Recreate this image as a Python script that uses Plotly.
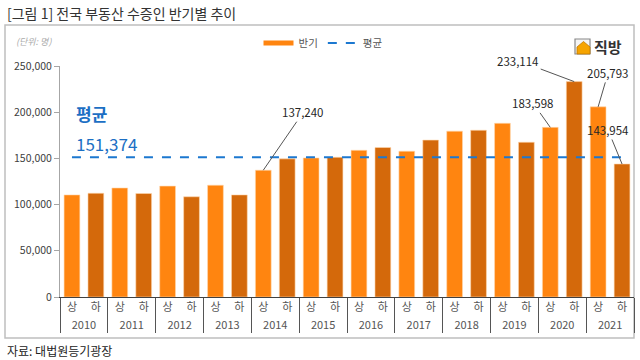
import plotly.graph_objects as go

# ---- data ----
years = ["2010", "2011", "2012", "2013", "2014", "2015", "2016",
         "2017", "2018", "2019", "2020", "2021"]
halves = ["상", "하"]
values = [110500, 112300, 118000, 112000, 120000, 108500, 121000, 110500,
          137240, 149500, 150500, 151200, 158800, 161800, 157800, 169800,
          179500, 180500, 188000, 167500, 183598, 233114, 205793, 143954]
average = 151374
labeled = {8: "137,240", 20: "183,598", 21: "233,114", 22: "205,793", 23: "143,954"}
label_offsets = {8: (40, -58), 20: (-17, -24), 21: (-56, -21), 22: (10, -34), 23: (-14, -34)}

W, H = 640, 360
ML, MR, MT, MB = 60, 6, 66, 63
PW, PH = W - ML - MR, H - MT - MB

def px(x):
    return (x - ML) / PW

def py(y):
    return (H - MB - y) / PH

xa = [y for y in years for _ in halves]
xb = [h for _ in years for h in halves]
colors = ["#FF8510" if h == "상" else "#D4690B" for h in xb]

FONT = "Noto Sans CJK KR, Noto Sans, DejaVu Sans, sans-serif"
fig = go.Figure()
fig.add_trace(go.Bar(x=[xa, xb], y=values, marker=dict(color=colors, line=dict(color="#FFD9B0", width=0.6)),
                     showlegend=False, width=0.66))
fig.add_trace(go.Scatter(x=[xa, xb], y=[average] * len(values), mode="lines",
                         line=dict(color="#1C78D0", width=2, dash="dash"), showlegend=False))
# legend proxies
fig.add_trace(go.Scatter(x=[None], y=[None], mode="lines", name="반기",
                         line=dict(color="#FF8510", width=5)))
fig.add_trace(go.Scatter(x=[None], y=[None], mode="lines", name="평균",
                         line=dict(color="#1C78D0", width=2, dash="dash")))

ann = []
for i, txt in labeled.items():
    ax, ay = label_offsets[i]
    ann.append(dict(x=i, y=values[i], xref="x", yref="y", text=txt, showarrow=True,
                    arrowhead=0, arrowwidth=1, arrowcolor="#555", ax=ax, ay=ay,
                    standoff=0, font=dict(family=FONT, size=11.5, color="#262626")))
ann += [
    dict(x=px(5), y=py(13), xref="paper", yref="paper", xanchor="left", yanchor="middle",
         text="[그림 1] 전국 부동산 수증인 반기별 추이", showarrow=False,
         font=dict(family=FONT, size=14, color="#333")),
    dict(x=px(14), y=py(42), xref="paper", yref="paper", xanchor="left", yanchor="middle",
         text="<i>(단위: 명)</i>", showarrow=False, font=dict(family=FONT, size=9, color="#aaa")),
    dict(x=px(74), y=py(113), xref="paper", yref="paper", xanchor="left", yanchor="middle",
         text="<b>평균</b>", showarrow=False, font=dict(family=FONT, size=17, color="#1C6FC4")),
    dict(x=px(74), y=py(143), xref="paper", yref="paper", xanchor="left", yanchor="middle",
         text=f"{average:,}", showarrow=False, font=dict(family=FONT, size=17, color="#1C6FC4")),
    dict(x=px(5), y=py(350), xref="paper", yref="paper", xanchor="left", yanchor="middle",
         text="자료: 대법원등기광장", showarrow=False, font=dict(family=FONT, size=12, color="#222")),
    dict(x=px(592), y=py(46), xref="paper", yref="paper", xanchor="left", yanchor="middle",
         text="<b>직방</b>", showarrow=False, font=dict(family=FONT, size=15, color="#333")),
]

shapes = [
    dict(type="rect", xref="paper", yref="paper", x0=px(5), x1=px(634), y0=py(338), y1=py(25),
         line=dict(color="#BFBFBF", width=1.5), layer="below"),
    dict(type="rect", xref="paper", yref="paper", x0=px(575), x1=px(590), y0=py(54), y1=py(39),
         line=dict(color="#888", width=1.2), fillcolor="#F4F4F4"),
    dict(type="path", xref="paper", yref="paper",
         path=f"M {px(577)} {py(54)} L {px(577)} {py(47)} L {px(583.5)} {py(41.5)} L {px(590)} {py(47)} L {px(590)} {py(54)} Z",
         fillcolor="#F6A400", line=dict(color="#C07800", width=0.8)),
]

fig.update_layout(
    width=W, height=H, margin=dict(l=ML, r=MR, t=MT, b=MB, autoexpand=False),
    paper_bgcolor="white", plot_bgcolor="white",
    font=dict(family=FONT, size=10, color="#404040"),
    bargap=0.34,
    legend=dict(orientation="h", x=px(323), xanchor="center", y=py(43), yanchor="middle",
                font=dict(family=FONT, size=10.5, color="#555"), itemwidth=30, bgcolor="rgba(0,0,0,0)"),
    annotations=ann, shapes=shapes,
    xaxis=dict(type="multicategory", showline=True, linecolor="#404040", linewidth=1,
               showdividers=True, dividercolor="#555", dividerwidth=1,
               tickfont=dict(family=FONT, size=11, color="#555"), ticks="", showgrid=False),
    yaxis=dict(range=[0, 250000], tickvals=[0, 50000, 100000, 150000, 200000, 250000],
               tickformat=",", showline=True, linecolor="#A6A6A6", linewidth=1, ticks="outside",
               ticklen=5, tickcolor="#A6A6A6", showgrid=False, zeroline=False,
               tickfont=dict(family=FONT, size=10.5, color="#404040")),
)
fig.write_html("out.html", config={"displayModeBar": False},
               post_script="document.body.style.margin='0';document.body.style.padding='0';")
